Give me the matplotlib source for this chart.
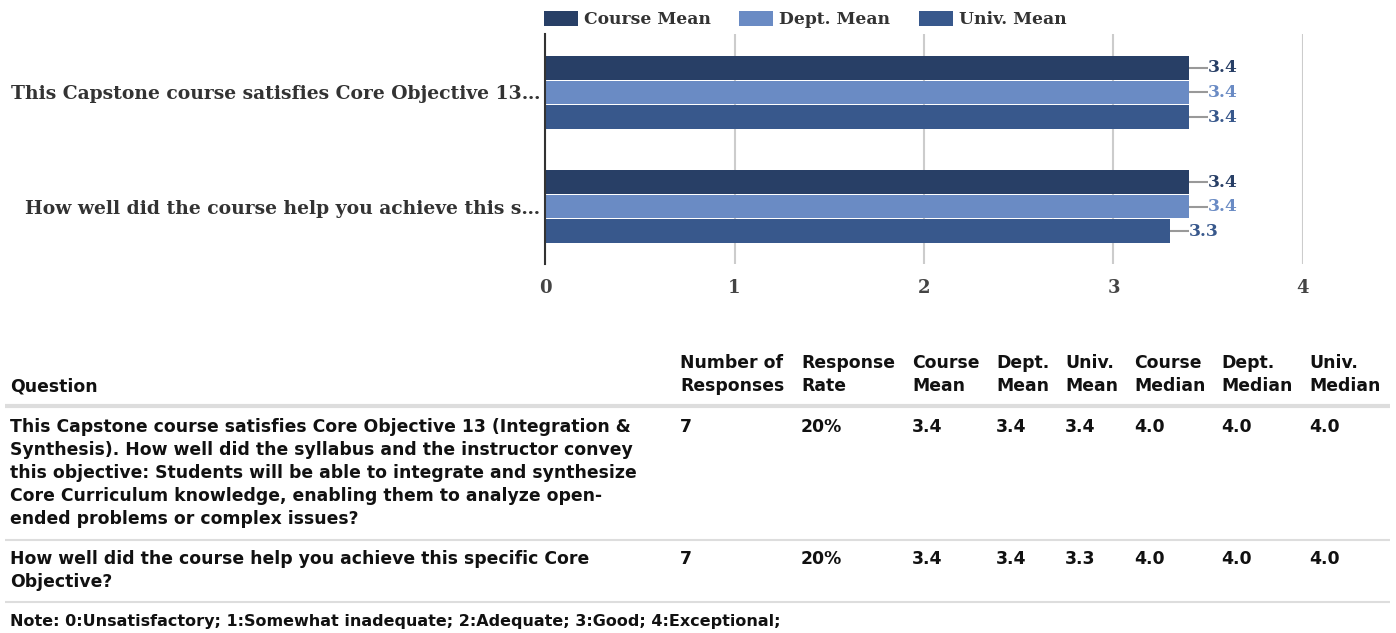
import matplotlib
matplotlib.use("Agg")
import matplotlib.pyplot as plt
from matplotlib.patches import Patch

# ---------------- data ----------------
chart_labels = ["This Capstone course satisfies Core Objective 13\u2026",
                "How well did the course help you achieve this s\u2026"]
series_names = ["Course Mean", "Dept. Mean", "Univ. Mean"]
course_mean = [3.4, 3.4]
dept_mean = [3.4, 3.4]
univ_mean = [3.4, 3.3]
x_ticks = [0, 1, 2, 3, 4]

table_headers = ["Question", "Number of\nResponses", "Response\nRate", "Course\nMean",
                 "Dept.\nMean", "Univ.\nMean", "Course\nMedian", "Dept.\nMedian", "Univ.\nMedian"]
questions = [
    "This Capstone course satisfies Core Objective 13 (Integration &\n"
    "Synthesis). How well did the syllabus and the instructor convey\n"
    "this objective: Students will be able to integrate and synthesize\n"
    "Core Curriculum knowledge, enabling them to analyze open-\n"
    "ended problems or complex issues?",
    "How well did the course help you achieve this specific Core\n"
    "Objective?",
]
n_responses = ["7", "7"]
response_rate = ["20%", "20%"]
course_median = ["4.0", "4.0"]
dept_median = ["4.0", "4.0"]
univ_median = ["4.0", "4.0"]
note_text = "Note: 0:Unsatisfactory; 1:Somewhat inadequate; 2:Adequate; 3:Good; 4:Exceptional;"

colors = ["#283f66", "#6a8bc4", "#38588c"]

W, H = 1396, 633
fig = plt.figure(figsize=(W / 100, H / 100), dpi=100)

def fx(px):
    return px / W

def fy(py):
    return 1 - py / H

SERIF = "DejaVu Serif"

# ---------------- chart ----------------
ax_top, ax_bot = 34, 264
ax = fig.add_axes([fx(545), fy(ax_bot), fx(1303) - fx(545), (ax_bot - ax_top) / H])
series = [course_mean, dept_mean, univ_mean]
offsets = [-0.215, 0.0, 0.215]
bar_h = 0.205
for vals, off, col, name in zip(series, offsets, colors, series_names):
    ys = [i + off for i in range(len(vals))]
    ax.barh(ys, vals, height=bar_h, color=col, label=name, zorder=3)
    for y, v in zip(ys, vals):
        ax.plot([v, v + 0.1], [y, y], color="#999999", lw=1.5, zorder=4,
                solid_capstyle="butt")
        ax.text(v + 0.1, y, f"{v:.1f}", color=col, fontfamily=SERIF,
                fontweight="bold", fontsize=12.3, va="center", ha="left")

ax.set_xlim(0, 4)
ax.set_ylim(1.504, -0.513)
ax.set_xticks(x_ticks)
ax.set_xticklabels([str(t) for t in x_ticks], fontfamily=SERIF,
                   fontweight="bold", fontsize=13, color="#444444")
ax.set_yticks(range(len(chart_labels)))
ax.set_yticklabels(chart_labels, fontfamily=SERIF, fontweight="bold",
                   fontsize=13.5, color="#333333")
ax.tick_params(axis="both", length=0)
ax.tick_params(axis="y", pad=3.5)
ax.tick_params(axis="x", pad=11)
ax.grid(axis="x", color="#cccccc", lw=1.5, zorder=0)
for s in ["top", "right", "bottom"]:
    ax.spines[s].set_visible(False)
ax.spines["left"].set_color("#333333")
ax.spines["left"].set_linewidth(1.5)
ax.spines["left"].set_zorder(5)

handles = [Patch(facecolor=c, label=n) for c, n in zip(colors, series_names)]
leg = fig.legend(handles=handles, loc="upper left", bbox_to_anchor=(fx(544), fy(11)),
                 ncol=3, frameon=False, handlelength=2.0, handleheight=1.0,
                 handletextpad=0.35, columnspacing=1.65, borderpad=0, borderaxespad=0,
                 prop={"family": SERIF, "weight": "bold", "size": 12.3})
for t in leg.get_texts():
    t.set_color("#333333")

# ---------------- table ----------------
tfont = dict(fontfamily="DejaVu Sans", fontweight="bold", fontsize=12.4, color="#111111")
col_x = [10, 680, 801, 912, 996, 1065, 1134, 1221, 1309]
pitch = 23

def put_lines(x, first_baseline, text, **kw):
    style = dict(tfont)
    style.update(kw)
    for k, line in enumerate(text.split("\n")):
        fig.text(fx(x), fy(first_baseline + k * pitch), line,
                 ha="left", va="baseline", **style)

for x, h in zip(col_x, table_headers):
    n = len(h.split("\n"))
    put_lines(x, 391 - (n - 1) * pitch, h)

def hline(py, lw, color):
    fig.add_artist(plt.Line2D([fx(5), fx(1390)], [fy(py), fy(py)], lw=lw,
                              color=color, solid_capstyle="butt"))

hline(406, 3, "#dddddd")

row_baselines = [432, 564]
for i, base in enumerate(row_baselines):
    cells = [questions[i], n_responses[i], response_rate[i], f"{course_mean[i]:.1f}",
             f"{dept_mean[i]:.1f}", f"{univ_mean[i]:.1f}", course_median[i],
             dept_median[i], univ_median[i]]
    for x, c in zip(col_x, cells):
        put_lines(x, base, c)

hline(540, 1.5, "#dddddd")
hline(602, 1.5, "#dddddd")
put_lines(10, 626, note_text, fontsize=11.5)

fig.savefig("out.png", dpi=100)
